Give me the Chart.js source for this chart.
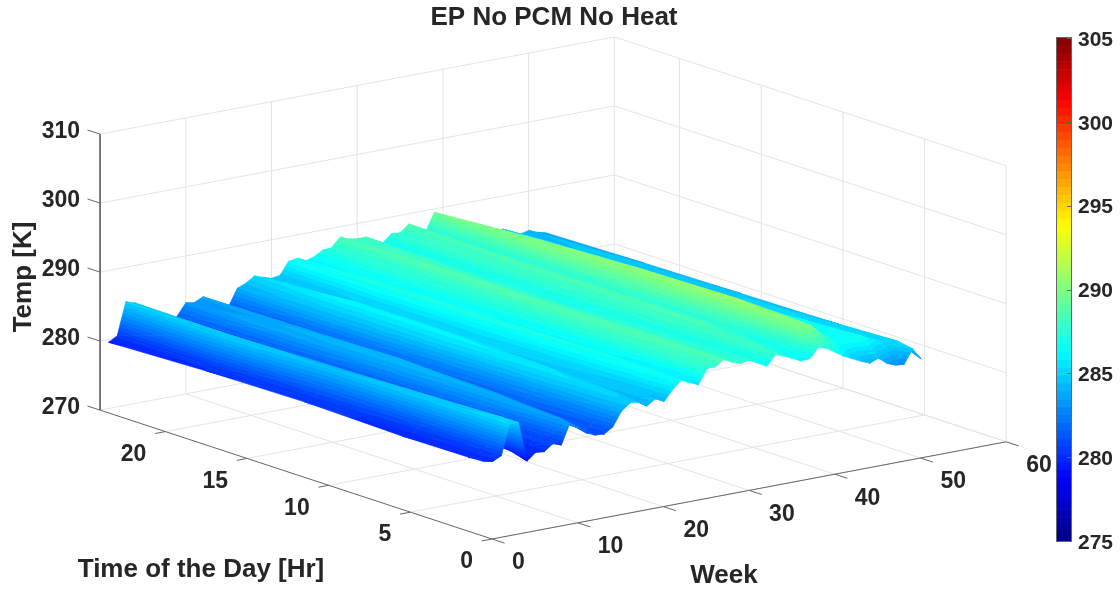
<!DOCTYPE html>
<html>
<head>
<meta charset="utf-8">
<title>EP No PCM No Heat</title>
<script src="https://cdn.jsdelivr.net/npm/chart.js@4/dist/chart.umd.min.js"></script>
<style>
body { margin: 0; background: #fff; }
canvas { position: absolute; top: 0; }
#surf { left: 0; }
#cbar { left: 1040px; }
</style>
</head>
<body>
<canvas id="surf" width="1120" height="592"></canvas>
<canvas id="cbar" width="80" height="592"></canvas>
<script>
let weeks = [1,2,3,4,5,6,7,8,9,10,11,12,13,14,15,16,17,18,19,20,21,22,23,24,25,26,27,28,29,30,31,32,33,34,35,36,37,38,39,40,41,42,43,44,45,46,47,48,49,50,51,52];
let hours = [24,18,12,6,2,1];

let tempH24 = [279.6,280.3,285,284.6,283.8,281,279.8,280,281.5,283.2,283,283.6,282.5,281.2,281.5,283.9,284.4,285.2,284.8,284.4,284.6,286.4,286.6,286,286.4,287.1,287.2,288.5,288,287.8,287.8,287,286.5,287.6,287.5,288.5,287.6,287,289.5,288.2,287,286,285.5,285,284.8,285,285.2,284.6,284,284.3,283.8,283.5];
let tempH18 = [280.1,280.4,284.8,284.5,283.4,281,280,280.2,281.8,283.6,284,283.8,282.6,281.5,281.8,283.8,285,286.2,285.6,284.9,285,286.4,287,286.6,286.6,287.2,287.6,288.7,288.2,287.8,287.6,287,286.8,287.6,288,288.4,287.8,287.4,289.8,289.9,288.2,287,286.2,285.6,285.4,285.6,285.8,285.2,284.6,284.8,284.2,283.8];
let tempH12 = [280.3,280.3,282,284.4,284.2,281,280,280.2,281.5,283.2,284.3,284,282.8,281.8,281.9,283.2,285,286,285.7,284.9,285,286,286.8,286.7,286.2,286.8,287.6,288.6,288.3,287.7,287.4,287,286.9,287.4,288,288.4,287.9,287.5,289,290.5,288.8,287.4,286.4,285.8,285.3,285.6,285.7,285.2,284.8,284.8,284.4,284];
let tempH6 = [280,280,281,284.7,284.6,280.5,280,280.1,281,282.5,284,283.6,282.4,281.5,281.5,282.6,284.4,285.5,285.3,284.5,284.8,285.2,286.4,286.8,286.2,286.5,287.6,288.2,288.5,287.9,287.5,287.4,287,287.2,288,288.3,287.8,287.3,288,290.8,289.2,287.7,286.7,286.1,285.9,286.1,286.3,285.7,285.2,285,284.8,284.2];
let tempH2 = [280.1,280,280.7,285,284.9,279.8,280.1,280.1,280.9,281,283.6,283,282,281.2,281.1,282,283.9,284.9,284.8,284.1,284.6,284.5,285.8,286.7,286.1,285.9,287.6,287.8,288.5,287.8,287.4,287.6,287,286.6,287.8,287.6,287,286.6,286.8,289.8,289.8,288.5,287.5,286.6,286.5,286.7,286.8,286.1,285.6,285.2,285.2,284.1];
let tempH1 = [280.2,280,280.6,285.1,284.9,279.1,280.1,280,280.9,280.5,283.4,282.5,281.5,281,280.9,281.7,283.7,284.7,284.6,283.8,284.6,284,285.5,286.6,286,285.5,287.6,287.6,288.5,287.8,287.4,287.7,287,286.3,287.7,287.3,286.7,286.1,286.2,287.6,287.2,286.4,285.6,285,284.4,283.9,284.4,283.4,282.9,282.8,284.8,283.1];
let tempRows = [tempH24,tempH18,tempH12,tempH6,tempH2,tempH1];

let weekTicks = [0,10,20,30,40,50,60];
let hourTicks = [0,5,10,15,20];
let tempTicks = [270,280,290,300,310];
let colorTicks = [275,280,285,290,295,300,305];

// view of the 3D box, pixels per unit
const origin = {x: 492, y: 539};
const perWeek = {x: 8.57, y: -1.62};
const perHour = {x: -16.33, y: -5.37};
const perKelvin = -6.9;
const weekMax = 60, hourMax = 24, tempMin = 270, tempMax = 310;
const cMin = 275, cMax = 305, nColors = 64;

const textColor = '#262626';
const gridColor = '#e4e4e4';
const axisColor = '#666666';

function project(week, hour, temp) {
    return {
        x: origin.x + perWeek.x * week + perHour.x * hour,
        y: origin.y + perWeek.y * week + perHour.y * hour + perKelvin * (temp - tempMin)
    };
}

function jet(i) {
    let t = (i + 0.5) / nColors;
    let f = v => Math.round(255 * Math.max(0, Math.min(1, 1.5 - Math.abs(4 * t - v))));
    return 'rgb(' + f(3) + ',' + f(2) + ',' + f(1) + ')';
}

function band(z) {
    let i = Math.floor((z - cMin) / (cMax - cMin) * nColors);
    return Math.max(0, Math.min(nColors - 1, i));
}

// banded colour across one triangle of the surface
function triFill(chart, tri) {
    let ctx = chart.ctx;
    let p = tri.map(v => ({x: chart.scales.x.getPixelForValue(v.x), y: chart.scales.y.getPixelForValue(v.y), z: v.z}));
    let zs = tri.map(v => v.z);
    let zLo = Math.min(...zs), zHi = Math.max(...zs);
    let det = (p[1].x - p[0].x) * (p[2].y - p[0].y) - (p[2].x - p[0].x) * (p[1].y - p[0].y);
    if (band(zLo) === band(zHi) || Math.abs(det) < 0.01) return jet(band((zLo + zHi) / 2));
    let gx = ((p[1].z - p[0].z) * (p[2].y - p[0].y) - (p[2].z - p[0].z) * (p[1].y - p[0].y)) / det;
    let gy = ((p[1].x - p[0].x) * (p[2].z - p[0].z) - (p[2].x - p[0].x) * (p[1].z - p[0].z)) / det;
    let n2 = gx * gx + gy * gy;
    let grad = ctx.createLinearGradient(
        p[0].x + gx * (zLo - p[0].z) / n2, p[0].y + gy * (zLo - p[0].z) / n2,
        p[0].x + gx * (zHi - p[0].z) / n2, p[0].y + gy * (zHi - p[0].z) / n2);
    let first = band(zLo), last = band(zHi);
    grad.addColorStop(0, jet(first));
    for (let i = first + 1; i <= last; i++) {
        let level = cMin + i * (cMax - cMin) / nColors;
        let t = (level - zLo) / (zHi - zLo);
        grad.addColorStop(t, jet(i - 1));
        grad.addColorStop(t, jet(i));
    }
    grad.addColorStop(1, jet(last));
    return grad;
}

function lineSet(points, color, width) {
    return {
        data: points,
        showLine: true,
        fill: false,
        borderColor: color,
        borderWidth: width || 1,
        pointRadius: 0,
        tension: 0
    };
}

function triSet(tri) {
    let cached = null;
    let paint = c => {
        if (cached) return cached;
        // options get resolved once before the scales have their size
        if (!c.chart.chartArea) return '#000';
        cached = triFill(c.chart, tri);
        return cached;
    };
    return {
        data: tri.concat([tri[0]]),
        showLine: true,
        fill: 'shape',
        backgroundColor: paint,
        borderColor: paint,
        borderWidth: 0.7,
        pointRadius: 0,
        tension: 0
    };
}

let sets = [];

// walls and floor
tempTicks.forEach(t => {
    sets.push(lineSet([project(0, hourMax, t), project(weekMax, hourMax, t), project(weekMax, 0, t)], gridColor));
});
weekTicks.slice(1).forEach(w => {
    sets.push(lineSet([project(w, 0, tempMin), project(w, hourMax, tempMin), project(w, hourMax, tempMax)], gridColor));
});
hourTicks.slice(1).concat([0]).forEach(h => {
    sets.push(lineSet([project(0, h, tempMin), project(weekMax, h, tempMin), project(weekMax, h, tempMax)], gridColor));
});

// axis lines and tick marks
sets.push(lineSet([project(0, hourMax, tempMax), project(0, hourMax, tempMin), project(0, 0, tempMin), project(weekMax, 0, tempMin)], axisColor));
tempTicks.forEach(t => {
    sets.push(lineSet([project(0, hourMax, t), project(0, hourMax + 0.77, t)], axisColor));
});
hourTicks.forEach(h => {
    sets.push(lineSet([project(0, h, tempMin), project(-1.2, h, tempMin)], axisColor));
});
weekTicks.forEach(w => {
    sets.push(lineSet([project(w, 0, tempMin), project(w, -0.77, tempMin)], axisColor));
});

// surface, far corner first
for (let r = 0; r < hours.length - 1; r++) {
    for (let i = weeks.length - 2; i >= 0; i--) {
        let v = (h, k) => {
            let q = project(weeks[k], hours[h], tempRows[h][k]);
            return {x: q.x, y: q.y, z: tempRows[h][k]};
        };
        sets.push(triSet([v(r, i + 1), v(r, i), v(r + 1, i + 1)]));
        sets.push(triSet([v(r, i), v(r + 1, i), v(r + 1, i + 1)]));
    }
}

// chart.js paints the first dataset last
sets.reverse();

function putText(ctx, str, x, y, size, align) {
    ctx.font = 'bold ' + size + 'px "Liberation Sans", Arial, sans-serif';
    ctx.fillStyle = textColor;
    ctx.textAlign = align || 'center';
    ctx.textBaseline = 'middle';
    ctx.fillText(str, x, y);
}

const boxLabels = {
    id: 'boxLabels',
    afterDraw(chart) {
        let ctx = chart.ctx;
        let px = p => ({x: chart.scales.x.getPixelForValue(p.x), y: chart.scales.y.getPixelForValue(p.y)});
        ctx.save();
        tempTicks.forEach(t => {
            let p = px(project(0, hourMax, t));
            putText(ctx, String(t), p.x - 20, p.y - 2, 23, 'right');
        });
        hourTicks.forEach(h => {
            let p = px(project(0, h, tempMin));
            putText(ctx, String(h), p.x - 19, p.y + 23, 23, 'right');
        });
        weekTicks.forEach(w => {
            let p = px(project(w, 0, tempMin));
            putText(ctx, String(w), p.x + 20, p.y + 24, 23, 'left');
        });
        putText(ctx, 'EP No PCM No Heat', 554, 18, 26);
        putText(ctx, 'Time of the Day [Hr]', 201, 570, 26);
        putText(ctx, 'Week', 724, 576, 26);
        ctx.translate(24, 277);
        ctx.rotate(-Math.PI / 2);
        putText(ctx, 'Temp [K]', 0, 0, 26);
        ctx.restore();
    }
};

new Chart(document.getElementById('surf').getContext('2d'), {
    type: 'scatter',
    data: {datasets: sets},
    options: {
        responsive: false,
        animation: false,
        events: [],
        layout: {padding: 0},
        scales: {
            x: {type: 'linear', min: 0, max: 1120, display: false},
            y: {type: 'linear', min: 0, max: 592, reverse: true, display: false}
        },
        plugins: {
            legend: {display: false},
            tooltip: {enabled: false}
        }
    },
    plugins: [boxLabels]
});

// colour bar
let barSets = [];
for (let i = 0; i < nColors; i++) {
    let step = (cMax - cMin) / nColors;
    barSets.push({
        data: [[cMin + i * step, cMin + (i + 1) * step]],
        backgroundColor: jet(i),
        borderWidth: 0,
        grouped: false,
        barPercentage: 1,
        categoryPercentage: 1
    });
}

const barTicks = {
    id: 'barTicks',
    afterDraw(chart) {
        let ctx = chart.ctx, area = chart.chartArea, y = chart.scales.y;
        ctx.save();
        ctx.strokeStyle = axisColor;
        ctx.lineWidth = 1;
        ctx.strokeRect(area.left - 0.5, area.top - 0.5, area.right - area.left + 1, area.bottom - area.top + 1);
        colorTicks.forEach(t => {
            let p = Math.round(y.getPixelForValue(t)) + 0.5;
            ctx.beginPath();
            ctx.moveTo(area.right - 4, p);
            ctx.lineTo(area.right, p);
            ctx.stroke();
        });
        ctx.restore();
    }
};

new Chart(document.getElementById('cbar').getContext('2d'), {
    type: 'bar',
    data: {labels: ['T'], datasets: barSets},
    options: {
        responsive: false,
        animation: false,
        events: [],
        layout: {padding: {left: 17, top: 38, bottom: 51, right: 0}},
        scales: {
            x: {display: false},
            y: {
                position: 'right',
                min: cMin,
                max: cMax,
                afterFit: s => { s.width = 49; },
                afterBuildTicks: s => { s.ticks = colorTicks.map(v => ({value: v})); },
                border: {display: false},
                grid: {display: false, drawTicks: false, tickLength: 0},
                ticks: {
                    color: textColor,
                    padding: 7,
                    labelOffset: 2,
                    font: {family: '"Liberation Sans", Arial, sans-serif', weight: 'bold', size: 21}
                }
            }
        },
        plugins: {
            legend: {display: false},
            tooltip: {enabled: false}
        }
    },
    plugins: [barTicks]
});
</script>
</body>
</html>
